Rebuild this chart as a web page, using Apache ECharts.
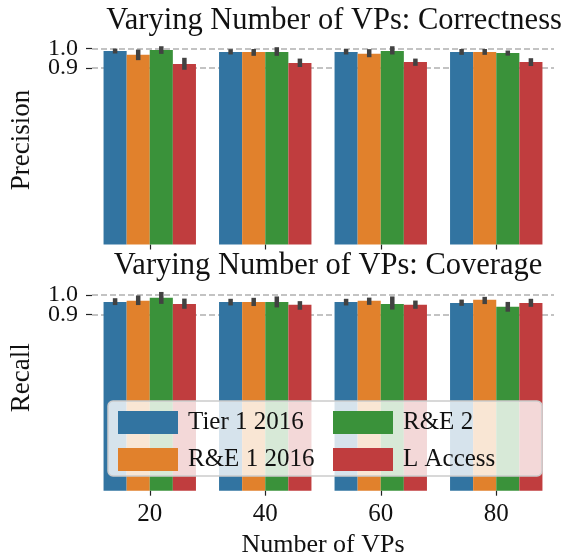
<!DOCTYPE html>
<html>
<head>
<meta charset="utf-8">
<script src="https://cdn.jsdelivr.net/npm/echarts@6/dist/echarts.min.js"></script>
<style>
  html, body { margin: 0; padding: 0; background: #fff; }
  #chart { width: 571px; height: 560px; }
</style>
</head>
<body>
<div id="chart"></div>
<script>
const categories = ['20', '40', '60', '80'];
const seriesNames = ['Tier 1 2016', 'R&E 1 2016', 'R&E 2', 'L Access'];
const colors = ['#3274a1', '#e1812c', '#3a923a', '#c03d3e'];
const yTicks = [0.9, 1.0];

// precision (top), one array per series, one value per category
const precision = [
  [0.987, 0.982, 0.982, 0.982],
  [0.967, 0.982, 0.972, 0.982],
  [0.992, 0.982, 0.987, 0.977],
  [0.921, 0.926, 0.931, 0.931]
];
const precisionLow = [
  [0.974, 0.969, 0.969, 0.967],
  [0.940, 0.962, 0.955, 0.967],
  [0.972, 0.962, 0.969, 0.963],
  [0.891, 0.905, 0.911, 0.910]
];
const precisionHigh = [
  [0.999, 0.996, 0.997, 0.997],
  [0.994, 0.997, 0.996, 0.997],
  [1.011, 1.006, 1.011, 0.989],
  [0.952, 0.948, 0.948, 0.950]
];

// recall (bottom)
const recall = [
  [0.964, 0.964, 0.964, 0.959],
  [0.970, 0.964, 0.970, 0.975],
  [0.985, 0.964, 0.954, 0.939],
  [0.954, 0.949, 0.949, 0.959]
];
const recallLow = [
  [0.948, 0.946, 0.946, 0.944],
  [0.948, 0.943, 0.949, 0.953],
  [0.954, 0.936, 0.925, 0.914],
  [0.929, 0.924, 0.929, 0.939]
];
const recallHigh = [
  [0.983, 0.980, 0.980, 0.976],
  [0.997, 0.985, 0.986, 0.990],
  [1.015, 0.992, 0.992, 0.964],
  [0.981, 0.968, 0.971, 0.980]
];

const font = 'Liberation Serif';
const chart = echarts.init(document.getElementById('chart'));

function errData(low, high) {
  const out = [];
  for (let s = 0; s < low.length; s++) {
    for (let c = 0; c < low[s].length; c++) {
      out.push([c, s, low[s][c], high[s][c]]);
    }
  }
  return out;
}

function renderErr(params, api) {
  const c = api.value(0);
  const s = api.value(1);
  const band = api.size([1, 0])[0];
  const off = (s - 1.5) * band * 0.2;
  const p1 = api.coord([c, api.value(2)]);
  const p2 = api.coord([c, api.value(3)]);
  return {
    type: 'line',
    shape: { x1: p1[0] + off, y1: p1[1], x2: p2[0] + off, y2: p2[1] },
    style: { stroke: '#424242', lineWidth: 4.5 }
  };
}

// one y axis per tick label, because the two labels overlap a little
// and echarts drops one of them otherwise
function makeY(gridIndex, tick, name, shift) {
  const ax = {
    type: 'value', gridIndex: gridIndex, min: 0, max: 1.03, position: 'left',
    axisLine: { show: false },
    axisTick: { show: true, customValues: [tick], length: 6, lineStyle: { color: '#222', width: 1.2 } },
    axisLabel: {
      customValues: [tick], margin: 14, color: '#111',
      fontFamily: font, fontSize: 24,
      formatter: v => v.toFixed(1)
    },
    splitLine: { show: false }
  };
  if (name) {
    ax.name = name;
    ax.nameLocation = 'middle';
    ax.nameGap = 57;
    ax.nameTextStyle = { fontFamily: font, fontSize: 27, color: '#111', padding: [0, 0, 0, shift] };
  }
  return ax;
}

function makeX(gridIndex, showLabel) {
  const ax = {
    type: 'category', gridIndex: gridIndex, data: categories,
    axisLine: { show: false },
    axisTick: { show: true, alignWithLabel: true, length: 5, lineStyle: { color: '#222', width: 1.2 } },
    axisLabel: { show: showLabel, margin: 11, color: '#111', fontFamily: font, fontSize: 25 }
  };
  if (showLabel) {
    ax.name = 'Number of VPs';
    ax.nameLocation = 'middle';
    ax.nameGap = 41;
    ax.nameTextStyle = { fontFamily: font, fontSize: 26, color: '#111' };
  }
  return ax;
}

const series = [];
[precision, recall].forEach((vals, g) => {
  vals.forEach((arr, s) => {
    series.push({
      type: 'bar', name: seriesNames[s], xAxisIndex: g, yAxisIndex: g,
      data: arr, barWidth: '20%', barGap: '0%',
      itemStyle: { color: colors[s] }, z: 2, animation: false,
      markLine: s === 0 ? {
        silent: true, symbol: 'none', z: 1, animation: false,
        label: { show: false },
        lineStyle: { color: '#b0b0b0', type: [6, 3], width: 1.6 },
        data: yTicks.map(v => ({ yAxis: v }))
      } : undefined
    });
  });
});
series.push({
  type: 'custom', xAxisIndex: 0, yAxisIndex: 0, z: 3, animation: false,
  renderItem: renderErr, data: errData(precisionLow, precisionHigh),
  encode: { x: 0, y: [2, 3] }
});
series.push({
  type: 'custom', xAxisIndex: 1, yAxisIndex: 1, z: 3, animation: false,
  renderItem: renderErr, data: errData(recallLow, recallHigh),
  encode: { x: 0, y: [2, 3] }
});

const legendCommon = {
  orient: 'vertical', itemWidth: 60, itemHeight: 23, itemGap: 12, padding: 0,
  icon: 'rect', z: 11, selectedMode: false,
  textStyle: { fontFamily: font, fontSize: 25, color: '#111', padding: [0, 0, 0, 5] }
};

chart.setOption({
  animation: false,
  title: [
    { text: 'Varying Number of VPs: Correctness', left: 329, top: 0, textAlign: 'center',
      textStyle: { fontFamily: font, fontSize: 30.5, fontWeight: 'normal', color: '#111' } },
    { text: 'Varying Number of VPs: Coverage', left: 323, top: 245, textAlign: 'center',
      textStyle: { fontFamily: font, fontSize: 30.5, fontWeight: 'normal', color: '#111' } }
  ],
  grid: [
    { left: 91, right: 17, top: 42.5, height: 202 },
    { left: 91, right: 17, top: 289, height: 201.7 }
  ],
  xAxis: [makeX(0, false), makeX(1, true)],
  yAxis: [
    makeY(0, yTicks[1], 'Precision', 7),
    makeY(1, yTicks[1], 'Recall', 24),
    makeY(0, yTicks[0]),
    makeY(1, yTicks[0])
  ],
  graphic: [{
    type: 'rect', z: 10, silent: true,
    shape: { x: 108, y: 401, width: 434, height: 75, r: 5 },
    style: { fill: 'rgba(255,255,255,0.8)', stroke: '#cccccc', lineWidth: 1.5 }
  }],
  legend: [
    Object.assign({ left: 118, top: 410, data: [seriesNames[0], seriesNames[1]] }, legendCommon),
    Object.assign({ left: 333, top: 410, data: [seriesNames[2], seriesNames[3]] }, legendCommon)
  ],
  series: series
});
</script>
</body>
</html>
